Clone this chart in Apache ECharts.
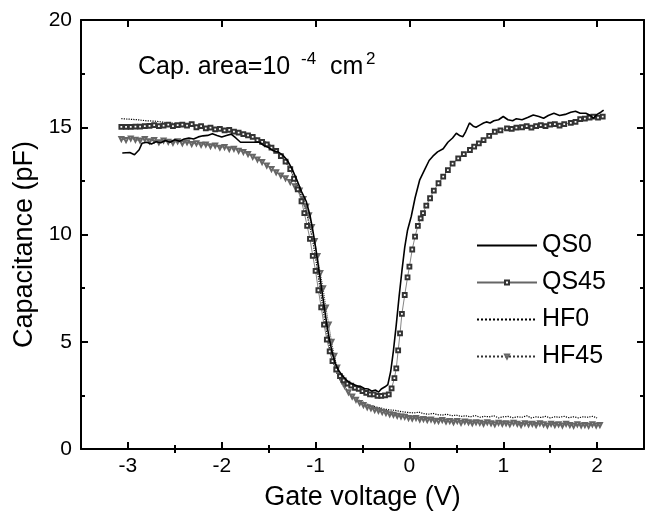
<!DOCTYPE html>
<html><head><meta charset="utf-8">
<script src="https://cdn.jsdelivr.net/npm/echarts@6/dist/echarts.min.js"></script>
<style>html,body{margin:0;padding:0;background:#fff}#c{width:645px;height:513px}</style>
</head><body><div id="c"></div>
<script>
// ---- data (Gate voltage V, Capacitance pF) ----
const qs0V = [-3.06,-2.98,-2.93,-2.88,-2.85,-2.80,-2.75,-2.70,-2.65,-2.60,-2.55,-2.50,-2.45,-2.40,-2.35,-2.30,-2.25,-2.20,-2.15,-2.10,-2.05,-2.00,-1.95,-1.90,-1.85,-1.80,-1.70,-1.60,-1.55,-1.50,-1.45,-1.40,-1.35,-1.30,-1.25,-1.20,-1.15,-1.10,-1.06,-1.03,-1.00,-0.97,-0.94,-0.91,-0.88,-0.85,-0.82,-0.79,-0.76,-0.72,-0.68,-0.64,-0.60,-0.56,-0.52,-0.48,-0.44,-0.40,-0.36,-0.33,-0.30,-0.26,-0.23,-0.20,-0.17,-0.14,-0.11,-0.08,-0.05,-0.02,0.02,0.06,0.11,0.16,0.21,0.25,0.30,0.36,0.41,0.46,0.50,0.54,0.57,0.60,0.64,0.68,0.71,0.75,0.79,0.82,0.86,0.90,0.95,1.00,1.05,1.10,1.14,1.20,1.26,1.32,1.38,1.43,1.48,1.54,1.60,1.66,1.72,1.77,1.82,1.88,1.93,1.96,2.00,2.04,2.07];
const qs0C = [13.80,13.82,13.72,13.95,14.25,14.30,14.22,14.32,14.28,14.38,14.30,14.42,14.35,14.45,14.50,14.45,14.55,14.60,14.62,14.70,14.62,14.55,14.62,14.68,14.50,14.30,14.30,14.30,14.15,14.05,13.90,13.85,13.70,13.45,13.05,12.55,12.00,11.55,10.90,10.20,9.40,8.50,7.60,6.70,5.80,5.05,4.45,4.00,3.70,3.45,3.25,3.10,3.02,2.95,2.92,2.82,2.80,2.70,2.75,2.65,2.80,2.90,3.00,3.60,4.60,5.80,7.10,8.30,9.40,10.20,10.85,11.70,12.55,13.00,13.45,13.65,13.85,14.00,14.30,14.50,14.72,14.60,14.56,14.80,15.20,15.05,15.00,15.10,15.20,15.25,15.20,15.30,15.35,15.50,15.35,15.30,15.40,15.35,15.45,15.57,15.50,15.42,15.55,15.65,15.55,15.60,15.70,15.75,15.65,15.65,15.55,15.42,15.60,15.70,15.80];

const qs45V = [-3.07,-3.02,-2.97,-2.92,-2.87,-2.82,-2.77,-2.72,-2.67,-2.62,-2.57,-2.52,-2.47,-2.42,-2.37,-2.32,-2.27,-2.22,-2.17,-2.12,-2.07,-2.02,-1.97,-1.92,-1.87,-1.82,-1.77,-1.72,-1.67,-1.62,-1.57,-1.52,-1.47,-1.42,-1.37,-1.32,-1.27,-1.23,-1.19,-1.15,-1.12,-1.09,-1.06,-1.03,-1.00,-0.97,-0.94,-0.91,-0.88,-0.85,-0.82,-0.78,-0.74,-0.70,-0.66,-0.62,-0.58,-0.54,-0.50,-0.46,-0.42,-0.38,-0.34,-0.30,-0.26,-0.22,-0.19,-0.16,-0.14,-0.12,-0.10,-0.08,-0.05,-0.02,0.00,0.03,0.06,0.09,0.12,0.145,0.18,0.22,0.26,0.31,0.36,0.41,0.46,0.52,0.58,0.645,0.69,0.74,0.79,0.85,0.91,0.97,1.04,1.09,1.14,1.20,1.25,1.30,1.35,1.40,1.45,1.50,1.55,1.60,1.65,1.72,1.77,1.82,1.87,1.92,1.96,2.01,2.06];
const qs45C = [15.02,15.02,15.02,15.03,15.03,15.05,15.06,15.10,15.05,15.08,15.12,15.05,15.10,15.12,15.08,15.15,15.00,15.05,14.95,14.98,14.90,14.92,14.85,14.88,14.80,14.75,14.68,14.62,14.55,14.40,14.32,14.20,14.05,13.90,13.65,13.40,13.05,12.60,12.10,11.55,11.00,10.40,9.80,9.00,8.30,7.40,6.60,5.80,5.10,4.55,4.10,3.70,3.40,3.20,3.05,2.95,2.85,2.80,2.70,2.62,2.55,2.55,2.48,2.48,2.50,2.55,2.83,3.30,3.76,4.60,5.39,6.30,7.18,8.00,8.50,9.30,9.90,10.40,10.75,11.00,11.35,11.69,12.05,12.39,12.70,13.00,13.30,13.55,13.75,13.94,14.10,14.25,14.40,14.60,14.79,14.85,14.95,14.92,14.98,15.00,15.05,14.98,15.05,15.10,15.05,15.12,15.15,15.08,15.15,15.20,15.25,15.38,15.40,15.45,15.50,15.45,15.50];

const hf0V = [-3.07,-3.00,-2.90,-2.80,-2.70,-2.60,-2.50,-2.40,-2.30,-2.20,-2.10,-2.00,-1.90,-1.80,-1.70,-1.60,-1.50,-1.45,-1.40,-1.35,-1.30,-1.25,-1.20,-1.15,-1.10,-1.06,-1.03,-1.00,-0.97,-0.94,-0.91,-0.88,-0.85,-0.82,-0.78,-0.74,-0.70,-0.65,-0.60,-0.55,-0.50,-0.45,-0.40,-0.35,-0.30,-0.25,-0.20,-0.15,-0.10,-0.05,0.00,0.05,0.10,0.15,0.20,0.25,0.30,0.35,0.40,0.45,0.50,0.55,0.60,0.65,0.70,0.75,0.80,0.85,0.90,0.95,1.00,1.05,1.10,1.15,1.20,1.25,1.30,1.35,1.40,1.45,1.50,1.55,1.60,1.65,1.70,1.75,1.80,1.85,1.90,1.95,2.00];
const hf0C = [15.40,15.38,15.35,15.30,15.28,15.22,15.18,15.15,15.10,15.05,14.98,14.95,14.85,14.75,14.60,14.45,14.25,14.05,13.85,13.60,13.25,12.85,12.35,11.75,11.05,10.35,9.70,8.90,8.00,7.10,6.20,5.40,4.70,4.10,3.60,3.20,2.90,2.65,2.45,2.30,2.20,2.10,2.00,1.95,1.90,1.85,1.82,1.80,1.75,1.72,1.70,1.68,1.72,1.65,1.62,1.66,1.60,1.58,1.62,1.55,1.58,1.52,1.55,1.50,1.56,1.48,1.52,1.50,1.55,1.45,1.50,1.52,1.46,1.50,1.48,1.55,1.45,1.50,1.47,1.52,1.45,1.50,1.48,1.52,1.46,1.50,1.45,1.50,1.48,1.52,1.45];

const hf45V = [-3.07,-3.02,-2.97,-2.92,-2.87,-2.82,-2.77,-2.72,-2.67,-2.62,-2.57,-2.52,-2.47,-2.42,-2.37,-2.32,-2.27,-2.22,-2.17,-2.12,-2.07,-2.02,-1.97,-1.92,-1.87,-1.82,-1.77,-1.72,-1.67,-1.62,-1.57,-1.52,-1.47,-1.42,-1.37,-1.32,-1.27,-1.22,-1.17,-1.13,-1.10,-1.07,-1.04,-1.01,-0.98,-0.95,-0.92,-0.89,-0.86,-0.83,-0.80,-0.77,-0.73,-0.69,-0.65,-0.61,-0.57,-0.53,-0.49,-0.45,-0.41,-0.37,-0.33,-0.29,-0.25,-0.21,-0.17,-0.13,-0.09,-0.05,-0.01,0.03,0.07,0.11,0.15,0.19,0.23,0.27,0.31,0.35,0.39,0.43,0.47,0.51,0.55,0.59,0.63,0.67,0.71,0.75,0.79,0.83,0.87,0.91,0.95,0.99,1.03,1.07,1.11,1.15,1.19,1.23,1.27,1.31,1.35,1.39,1.43,1.47,1.51,1.55,1.59,1.63,1.67,1.71,1.75,1.79,1.83,1.87,1.91,1.95,1.99,2.03];
const hf45C = [14.45,14.40,14.48,14.42,14.38,14.45,14.35,14.40,14.30,14.38,14.32,14.28,14.35,14.25,14.30,14.22,14.25,14.18,14.20,14.12,14.15,14.05,14.08,13.98,14.00,13.90,13.85,13.75,13.62,13.50,13.38,13.22,13.05,12.90,12.75,12.62,12.45,12.25,12.05,11.65,11.30,10.90,10.35,9.70,9.00,8.20,7.50,6.60,5.80,5.00,4.35,3.80,3.30,2.95,2.65,2.45,2.30,2.15,2.05,1.95,1.90,1.82,1.78,1.72,1.68,1.62,1.60,1.55,1.52,1.50,1.45,1.42,1.45,1.38,1.40,1.35,1.38,1.32,1.30,1.35,1.28,1.30,1.25,1.30,1.22,1.28,1.25,1.20,1.25,1.22,1.18,1.25,1.20,1.15,1.22,1.18,1.20,1.15,1.22,1.18,1.12,1.20,1.15,1.18,1.12,1.20,1.15,1.10,1.18,1.12,1.15,1.10,1.18,1.12,1.08,1.15,1.10,1.12,1.08,1.15,1.10,1.12];

const seriesNames = ['QS0','QS45','HF0','HF45'];
const xMajorTicks = [-3,-2,-1,0,1,2];
const xMinorTicks = [-2.5,-1.5,-0.5,0.5,1.5];
const xMin = -3.5, xMax = 2.5;
const yMin = 0, yMax = 20, yStep = 5;
const xTitle = 'Gate voltage (V)';
const yTitle = 'Capacitance (pF)';

const zip = (a, b) => a.map((v, i) => [v, b[i]]);
const FONT = 'Liberation Sans, Arial, Helvetica, sans-serif';

const chart = echarts.init(document.getElementById('c'), null, {renderer: 'canvas'});

const baseX = {
  type: 'value', min: xMin, max: xMax, gridIndex: 0,
  splitLine: {show: false}, axisLabel: {show: false},
  axisLine: {show: false}
};
const lineStyleAxis = {color: '#000', width: 2};
const tickMajor = {color: '#000', width: 2};

chart.setOption({
  animation: false,
  backgroundColor: '#fff',
  grid: {left: 81, right: 1, top: 20, bottom: 64, containLabel: false, outerBoundsMode: 'none'},
  xAxis: [
    Object.assign({}, baseX, {
      position: 'bottom',
      axisLine: {show: true, onZero: false, lineStyle: lineStyleAxis},
      axisTick: {show: true, inside: true, length: 7, lineStyle: tickMajor, customValues: xMajorTicks},
      axisLabel: {show: true, customValues: xMajorTicks, margin: 7, color: '#000', fontSize: 21, fontFamily: FONT,
        formatter: v => String(v)},
      name: xTitle, nameLocation: 'middle', nameGap: 35,
      nameTextStyle: {color: '#000', fontSize: 27, fontFamily: FONT}
    }),
    Object.assign({}, baseX, {
      position: 'bottom',
      axisTick: {show: true, inside: true, length: 4, lineStyle: tickMajor, customValues: xMinorTicks}
    }),
    Object.assign({}, baseX, {
      position: 'top',
      axisLine: {show: true, onZero: false, lineStyle: lineStyleAxis},
      axisTick: {show: true, inside: true, length: 7, lineStyle: tickMajor, customValues: xMajorTicks}
    }),
    Object.assign({}, baseX, {
      position: 'top',
      axisTick: {show: true, inside: true, length: 4, lineStyle: tickMajor, customValues: xMinorTicks}
    })
  ],
  yAxis: [
    {
      type: 'value', min: yMin, max: yMax, interval: yStep, position: 'left',
      splitLine: {show: false},
      axisLine: {show: true, onZero: false, lineStyle: lineStyleAxis},
      axisTick: {show: true, inside: true, length: 7, lineStyle: tickMajor},
      minorTick: {show: true, splitNumber: 2, length: 4, lineStyle: tickMajor},
      axisLabel: {margin: 9, color: '#000', fontSize: 21, fontFamily: FONT},
      name: yTitle, nameLocation: 'middle', nameGap: 36,
      nameTextStyle: {color: '#000', fontSize: 27, fontFamily: FONT, padding: [0, 20, 0, 0]}
    },
    {
      type: 'value', min: yMin, max: yMax, interval: yStep, position: 'right',
      splitLine: {show: false},
      axisLine: {show: true, onZero: false, lineStyle: lineStyleAxis},
      axisTick: {show: true, inside: true, length: 7, lineStyle: tickMajor},
      minorTick: {show: true, splitNumber: 2, length: 4, lineStyle: tickMajor},
      axisLabel: {show: false}
    }
  ],
  legend: {
    orient: 'vertical', left: 471, top: 228, itemWidth: 60, itemHeight: 5, itemGap: 12,
    textStyle: {color: '#000', fontSize: 25, fontFamily: FONT, lineHeight: 25},
    data: [
      {name: seriesNames[0], itemStyle: {opacity: 0}},
      {name: seriesNames[1]},
      {name: seriesNames[2], itemStyle: {opacity: 0}},
      {name: seriesNames[3]}
    ]
  },
  graphic: [
    {type: 'text', left: 138, top: 55, style: {text: 'Cap. area=10', font: '25px ' + FONT, fill: '#000'}},
    {type: 'text', left: 301, top: 51, style: {text: '-4', font: '17px ' + FONT, fill: '#000'}},
    {type: 'text', left: 330, top: 55, style: {text: 'cm', font: '25px ' + FONT, fill: '#000'}},
    {type: 'text', left: 366, top: 51, style: {text: '2', font: '17px ' + FONT, fill: '#000'}}
  ],
  series: [
    {name: seriesNames[0], type: 'line', data: zip(qs0V, qs0C), showSymbol: false, symbol: 'none',
      lineStyle: {color: '#000', width: 1.6}, itemStyle: {color: '#000'}, z: 4},
    {name: seriesNames[1], type: 'line', data: zip(qs45V, qs45C), symbol: 'emptyRect', symbolSize: 3.8,
      lineStyle: {color: '#666', width: 0.8}, itemStyle: {color: '#333', borderWidth: 0.8}, z: 3},
    {name: seriesNames[2], type: 'line', data: zip(hf0V, hf0C), showSymbol: false, symbol: 'none',
      lineStyle: {color: '#000', width: 1.2, type: 'dotted'}, itemStyle: {color: '#000'}, z: 2},
    {name: seriesNames[3], type: 'line', data: zip(hf45V, hf45C), symbol: 'emptyTriangle', symbolSize: 4, symbolRotate: 180,
      lineStyle: {color: '#333', width: 1, type: 'dotted'}, itemStyle: {color: '#666', borderWidth: 0.7}, z: 2}
  ]
});
</script></body></html>
